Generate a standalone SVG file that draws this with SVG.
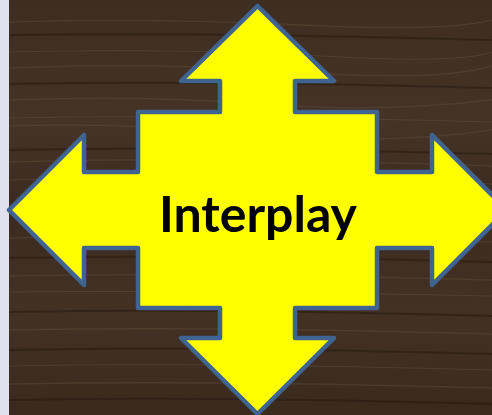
<svg xmlns="http://www.w3.org/2000/svg" width="492" height="415" viewBox="0 0 492 415">
  <style>
    .grain { fill: none; stroke-linecap: butt; }
    .g1 { stroke: #6a553e; stroke-width: 1.5; opacity: 0.35; }
    .g2 { stroke: #22170f; stroke-width: 2; opacity: 0.45; }
    .g3 { stroke: #7b6548; stroke-width: 1; opacity: 0.3; }
    .arrow { fill: #ffff00; stroke: #3f6491; stroke-width: 4.5; stroke-linejoin: round; }
    .label { font-family: Lato, "Liberation Sans", sans-serif; font-weight: bold; font-size: 50px; fill: #000000; }
  </style>
  <defs>
    <linearGradient id="wood" x1="0" y1="0" x2="0" y2="1">
      <stop offset="0" stop-color="#3e2d21"/>
      <stop offset="0.3" stop-color="#453325"/>
      <stop offset="0.5" stop-color="#3b2b1f"/>
      <stop offset="0.75" stop-color="#433124"/>
      <stop offset="1" stop-color="#3a2a1e"/>
    </linearGradient>
  </defs>
  <g id="background">
    <rect x="0" y="0" width="492" height="415" fill="#e1e1ed"/>
    <rect x="9" y="0" width="483" height="415" fill="url(#wood)"/>
    <path class="grain g1" d="M9 22 Q150 18 300 25 T492 20"/>
    <path class="grain g2" d="M9 35 Q200 32 492 40"/>
    <path class="grain g3" d="M9 52 Q180 48 320 56 T492 52"/>
    <path class="grain g1" d="M9 68 Q160 62 300 72 T492 66"/>
    <path class="grain g2" d="M9 84 Q200 80 492 88"/>
    <path class="grain g1" d="M9 100 Q140 95 260 104 T492 100"/>
    <path class="grain g3" d="M9 118 Q200 114 492 122"/>
    <path class="grain g1" d="M9 126 Q120 122 250 134 T492 130"/>
    <path class="grain g2" d="M9 150 Q200 146 492 154"/>
    <path class="grain g1" d="M9 162 Q200 156 492 166"/>
    <path class="grain g3" d="M9 180 Q200 176 492 184"/>
    <path class="grain g1" d="M9 238 Q200 234 492 242"/>
    <path class="grain g2" d="M9 258 Q200 254 492 262"/>
    <path class="grain g1" d="M9 276 Q200 272 492 280"/>
    <path class="grain g3" d="M9 292 Q200 290 492 296"/>
    <path class="grain g2" d="M9 312 Q200 308 492 316"/>
    <path class="grain g1" d="M9 330 Q200 326 492 334"/>
    <path class="grain g2" d="M9 350 Q200 346 492 354"/>
    <path class="grain g3" d="M9 366 Q200 362 492 370"/>
    <path class="grain g1" d="M9 384 Q200 380 492 388"/>
    <path class="grain g2" d="M9 400 Q200 396 492 404"/>
  </g>
  <g id="interplay-arrow">
    <polygon class="arrow" points="257.5,6 334,81 295,81 295,112 377,112 377,172 432,172 432,135 507,210 432,285 432,248 377,248 377,308 295,308 295,338 334,338 257.5,414 181,338 220,338 220,308 138,308 138,248 84,248 84,285 9,210 84,135 84,172 138,172 138,112 220,112 220,81 181,81"/>
    <text class="label" x="258" y="232" text-anchor="middle">Interplay</text>
  </g>
</svg>
